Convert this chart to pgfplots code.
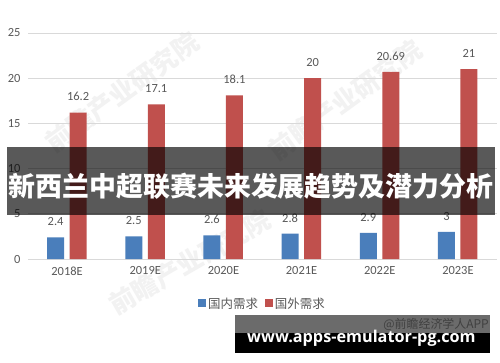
\documentclass[border=0pt]{standalone}
\usepackage{pgfplots}
\pgfplotsset{compat=1.18}
\usepackage{fontspec}
\setmainfont{Carlito}
\newfontfamily\cjk{Noto Sans CJK SC}
\newfontfamily\urlfont{Open Sans}
\definecolor{blueb}{HTML}{4A7EBB}
\definecolor{redb}{HTML}{C0504D}
\definecolor{txt}{HTML}{595959}
\definecolor{gridc}{HTML}{D9D9D9}
\begin{document}
\begin{tikzpicture}[x=1bp,y=1bp]
\fill[white] (0,0) rectangle (500,362);
% faint watermarks
\node[rotate=36, text=black!5, font=\cjk\bfseries\fontsize{26}{26}\selectfont] at (122,270) {前瞻产业研究院};
\node[rotate=36, text=black!5, font=\cjk\bfseries\fontsize{26}{26}\selectfont] at (345,262) {前瞻产业研究院};
\node[rotate=30, text=black!5, font=\cjk\bfseries\fontsize{26}{26}\selectfont] at (190,100) {前瞻产业研究院};
\begin{axis}[
  at={(28bp,103bp)}, anchor=south west,
  scale only axis, width=469bp, height=226bp,
  xmin=-0.5, xmax=5.5, ymin=0, ymax=25,
  ytick={0,5,10,15,20,25},
  xtick={0,1,2,3,4,5},
  xticklabels={2018E,2019E,2020E,2021E,2022E,2023E},
  ymajorgrids, grid style={gridc, line width=0.8pt},
  axis line style={draw=none},
  major tick length=0pt,
  /pgf/number format/assume math mode=true,
  tick label style={font=\fontsize{12.5}{13}\selectfont, text=txt},
  yticklabel style={xshift=-4bp},
  xticklabel style={yshift=-4bp},
  ybar, bar width=17bp,
  nodes near coords,
  every node near coord/.append style={font=\fontsize{12.5}{13}\selectfont, text=txt, yshift=8bp},
  legend columns=2,
  legend style={at={(0.5,-0.199)}, anchor=center, draw=none, fill=none,
    font=\cjk\fontsize{12.5}{13}\selectfont, text=txt,
    /tikz/every even column/.append style={column sep=5bp}},
  legend image code/.code={\fill[#1] (0bp,-3.5bp) rectangle (8bp,4.5bp);},
]
\addplot[fill=blueb, draw=none, bar shift=-11.5bp] coordinates {(0,2.4) (1,2.5) (2,2.6) (3,2.8) (4,2.9) (5,3)};
\addplot[fill=redb, draw=none, bar shift=11bp] coordinates {(0,16.2) (1,17.1) (2,18.1) (3,20) (4,20.69) (5,21)};
\legend{国内需求,国外需求}
\end{axis}
% title banner
\fill[black, opacity=0.65] (7,147) rectangle (495,215);
\node[text=white, font=\cjk\bfseries\fontsize{27}{27}\selectfont] at (251,176) {新西兰中超联赛未来发展趋势及潜力分析};
% bottom banner
\fill[black, opacity=0.58] (235,29) rectangle (490,47);
\node[anchor=east, text=black!75, font=\cjk\fontsize{12}{12}\selectfont, inner sep=0pt] at (489,38) {@前瞻经济学人APP};
\fill[black] (235,9) rectangle (490,29);
\node[anchor=base west, text=white, font=\urlfont\bfseries\fontsize{16.3}{17}\selectfont, inner sep=0pt] at (247,20) {www.apps-emulator-pg.com};
\end{tikzpicture}
\end{document}
